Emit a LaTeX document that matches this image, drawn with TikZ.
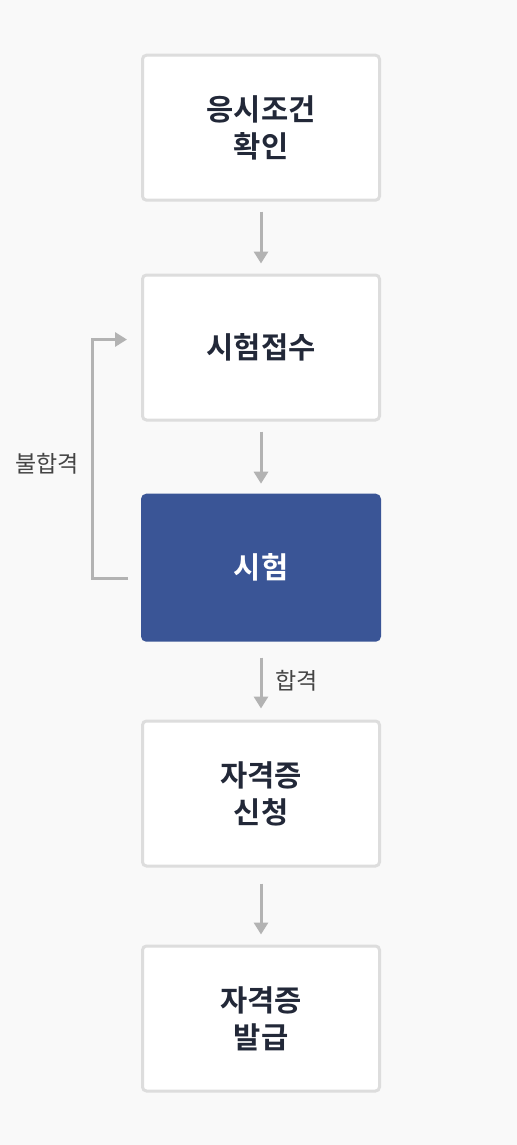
\documentclass[tikz,border=0pt]{standalone}
\usepackage{fontspec}
\setmainfont{Noto Sans CJK KR}[BoldFont={Noto Sans CJK KR Bold}]
\usetikzlibrary{arrows.meta}

\definecolor{bggray}{HTML}{f9f9f9}
\definecolor{boxline}{HTML}{dddddd}
\definecolor{arrgray}{HTML}{b3b3b3}
\definecolor{stepblue}{HTML}{3a5596}
\definecolor{textdark}{HTML}{222838}
\definecolor{labelgray}{HTML}{444444}

\begin{document}
\begin{tikzpicture}[x=0.5pt, y=-0.5pt]
    \fill[bggray] (0,0) rectangle (517,1145);
    \useasboundingbox (0,0) rectangle (517,1145);
    \begin{scope}[all/.style={draw=boxline, fill=white, line width=1.5pt, rounded corners=2pt, minimum width=118.5pt, minimum height=72.5pt, align=center, text=textdark, font=\bfseries\fontsize{14.8}{18.5}\selectfont}]
        \node[all] (b1) at (261, 127.7) {응시조건\\확인};
        \node[all] (b2) at (261, 347.5) {시험접수};
        \node[all, draw=stepblue, fill=stepblue, text=white] (b3) at (261, 567.7) {시험};
        \node[all] (b4) at (261, 793.5) {자격증\\신청};
        \node[all] (b5) at (261, 1018.5) {자격증\\발급};
        \begin{scope}[arrgray, line width=1.5pt, -{Triangle[width=7pt,length=6pt]}]
        \path (b1) edge[shorten <=5pt, shorten >=5pt] (b2) ;
        \path (b2) edge[shorten <=5pt, shorten >=5pt] (b3) ;
        \path (b3) edge[shorten <=8pt, shorten >=5.5pt] node[right, xshift=3pt, text=labelgray, font=\fontsize{11.5}{13}\selectfont] (pass) {합격} (b4) ;
        \path (b4) edge[shorten <=8pt, shorten >=5pt] (b5) ;
        % back to registration
        \coordinate (fl) at ([shift={(-6.5pt,-5.2pt)}]b3.west);
        \coordinate (fr) at ([shift={(-7pt,4pt)}]b2.west);
        \draw (fl) -- ++(-18pt,0) |- node[pos=0.24, left, xshift=-2.5pt, text=labelgray, font=\fontsize{11.5}{13}\selectfont] (fail) {불합격} (fr) ;
        \end{scope}
    \end{scope}
\end{tikzpicture}
\end{document}
